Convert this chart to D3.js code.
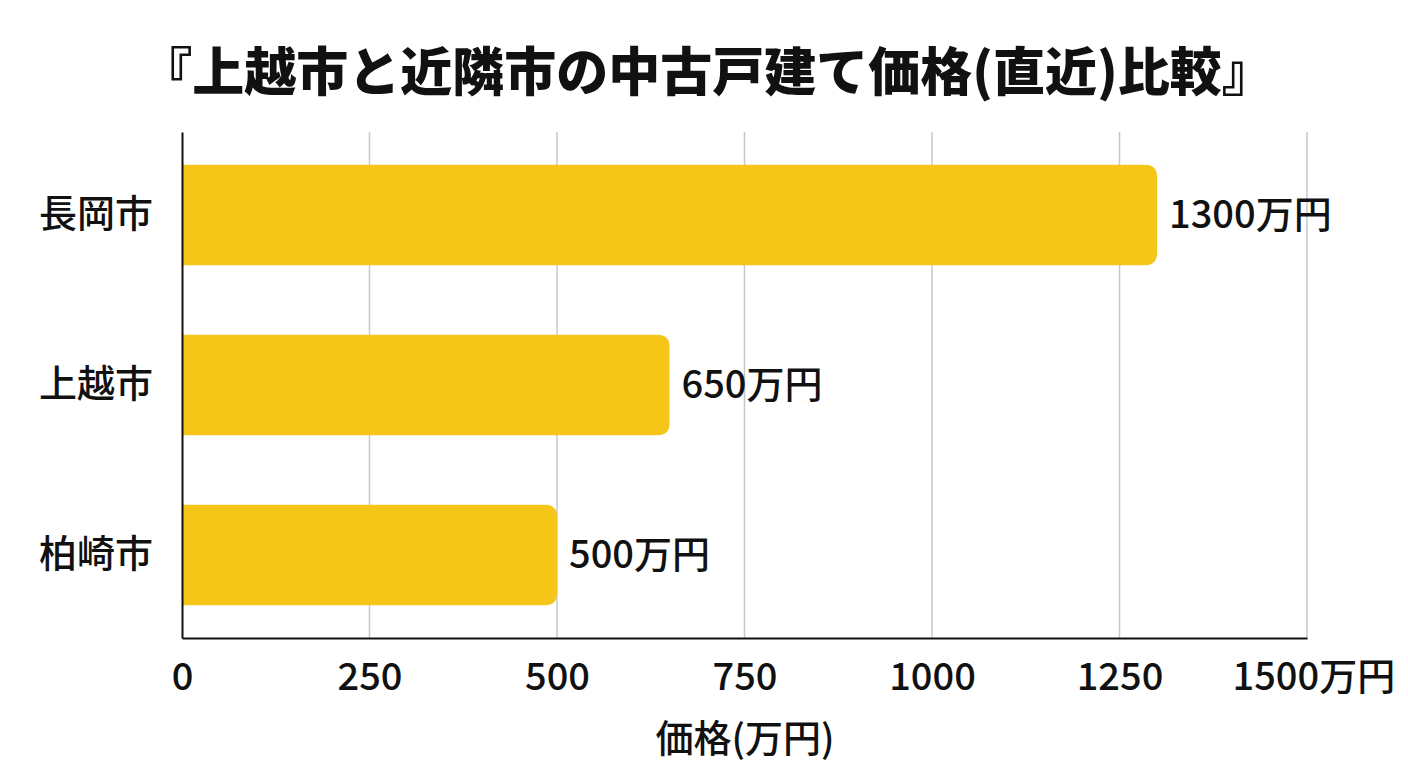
<!DOCTYPE html>
<html><head><meta charset="utf-8">
<script src="https://cdn.jsdelivr.net/npm/d3@7"></script>
<style>
html,body{margin:0;padding:0;background:#fff;}
svg{display:block;font-family:"Noto Sans CJK JP","Noto Sans",sans-serif;}
</style></head>
<body>
<svg id="chart" width="1408" height="768"></svg>
<script>
const categories = ["長岡市", "上越市", "柏崎市"];
const values = [1300, 650, 500];
const tickValues = [0, 250, 500, 750, 1000, 1250, 1500];
const tickLabels = ["0", "250", "500", "750", "1000", "1250", "1500万円"];
const titleText = "『上越市と近隣市の中古戸建て価格(直近)比較』";
const xAxisTitle = "価格(万円)";
const valueSuffix = "万円";

const svg = d3.select("#chart");
const margin = {left: 182, right: 101, top: 132, bottom: 130};
const W = 1408, H = 768;
const x = d3.scaleLinear().domain([0, 1500]).range([margin.left, W - margin.right]);
const y = d3.scaleBand().domain(categories).range([margin.top, H - margin.bottom]).paddingInner(0.41).paddingOuter(0.193);

const FS = 38;

// title
svg.append("text").attr("x", 707).attr("y", 91).attr("text-anchor", "middle")
  .attr("font-size", 52).attr("font-weight", 900).attr("fill", "#111").text(titleText);

// gridlines
svg.append("g").selectAll("line").data(tickValues.slice(1)).join("line")
  .attr("x1", d => x(d)).attr("x2", d => x(d))
  .attr("y1", margin.top).attr("y2", H - margin.bottom)
  .attr("stroke", "#c8c8c8").attr("stroke-width", 1.5);

// bars: square left, rounded right
const r = 12;
svg.append("g").selectAll("path").data(values).join("path")
  .attr("fill", "#F5C518")
  .attr("d", (d, i) => {
    const x0 = x(0), x1 = x(d), y0 = y(categories[i]), y1 = y0 + y.bandwidth();
    return `M${x0},${y0}H${x1 - r}Q${x1},${y0} ${x1},${y0 + r}V${y1 - r}Q${x1},${y1} ${x1 - r},${y1}H${x0}Z`;
  });

// value labels
svg.append("g").selectAll("text").data(values).join("text")
  .attr("x", d => x(d) + 12)
  .attr("y", (d, i) => y(categories[i]) + y.bandwidth() / 2)
  .attr("dy", "0.35em").attr("font-size", FS).attr("font-weight", 500).attr("fill", "#111")
  .text(d => d + valueSuffix);

// x axis
const xAxis = d3.axisBottom(x).tickValues(tickValues).tickSize(0).tickPadding(25)
  .tickFormat((d, i) => tickLabels[i]);
const gx = svg.append("g").attr("transform", `translate(0,${H - margin.bottom})`).call(xAxis);
gx.select(".domain").attr("stroke", "#111").attr("stroke-width", 2);
gx.selectAll("text").attr("font-size", FS).attr("font-weight", 500).attr("fill", "#111").attr("font-family", "'Noto Sans CJK JP', sans-serif");
gx.selectAll(".tick").filter((d) => d === 1500).select("text").attr("text-anchor", "start").attr("dx", -75);

// y axis
const yAxis = d3.axisLeft(y).tickSize(0).tickPadding(29);
const gy = svg.append("g").attr("transform", `translate(${margin.left},0)`).call(yAxis);
gy.select(".domain").attr("stroke", "#111").attr("stroke-width", 2);
gy.selectAll("text").attr("font-size", FS).attr("font-weight", 500).attr("fill", "#111").attr("font-family", "'Noto Sans CJK JP', sans-serif");

// axis title
svg.append("text").attr("x", 745).attr("y", 752).attr("text-anchor", "middle")
  .attr("font-size", FS).attr("font-weight", 500).attr("fill", "#111").text(xAxisTitle);
</script>
</body></html>
